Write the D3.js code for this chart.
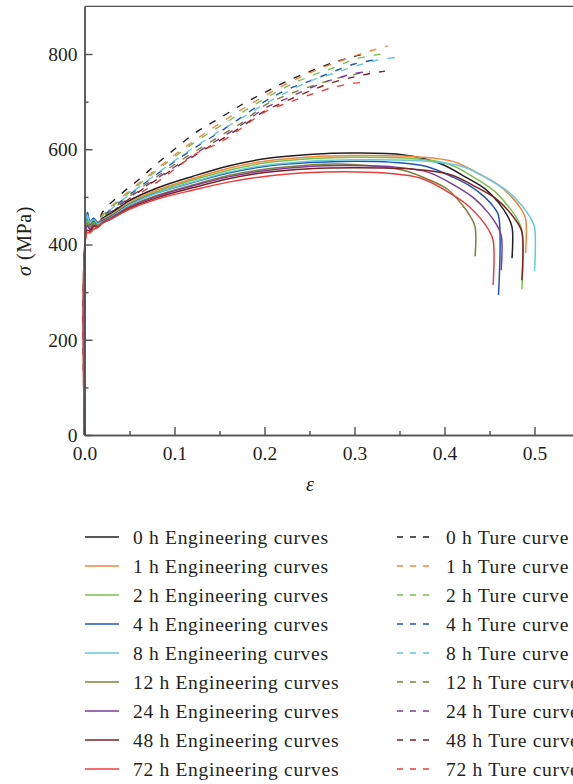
<!DOCTYPE html>
<html><head><meta charset="utf-8">
<script src="https://cdn.jsdelivr.net/npm/d3@7"></script>
<style>
html,body{margin:0;padding:0;background:#fff;}
svg{display:block;font-family:"Liberation Serif","Times New Roman",serif;}
</style></head><body>
<svg id="chart" width="573" height="784"></svg>
<script>
// ---- data ----
const hours = ["0 h","1 h","2 h","4 h","8 h","12 h","24 h","48 h","72 h"];
const xTicks = [0,0.1,0.2,0.3,0.4,0.5];
const xMinor = [0.05,0.15,0.25,0.35,0.45,0.55];
const yTicks = [0,200,400,600,800];
const yMinor = [100,300,500,700];

// engineering curves [strain, stress MPa]
const eng0h = [[0,0],[0.003,452],[0.006,440],[0.01,449],[0.015,444],[0.02,455],[0.03,466],[0.05,492],[0.08,518],[0.12,543],[0.16,565],[0.2,580],[0.25,589],[0.3,592],[0.355,588],[0.395,570],[0.425,540],[0.445,517],[0.46,488],[0.47,460],[0.475,437],[0.475,371]];
const eng1h = [[0,0],[0.003,458],[0.006,445],[0.01,452],[0.015,447],[0.02,452],[0.03,463],[0.05,488],[0.08,514],[0.12,538],[0.16,560],[0.2,575],[0.25,584],[0.3,587],[0.37,584],[0.41,574],[0.44,547],[0.46,525],[0.475,499],[0.485,475],[0.49,455],[0.49,382]];
const eng2h = [[0,0],[0.003,450],[0.006,438],[0.01,446],[0.015,441],[0.02,450],[0.03,461],[0.05,486],[0.08,511],[0.12,535],[0.16,556],[0.2,571],[0.25,580],[0.3,583],[0.366,580],[0.406,568],[0.436,537],[0.456,511],[0.471,480],[0.481,453],[0.486,430],[0.486,306]];
const eng4h = [[0,0],[0.003,468],[0.006,448],[0.01,455],[0.015,446],[0.02,450],[0.03,460],[0.05,484],[0.08,508],[0.12,530],[0.16,550],[0.2,564],[0.25,572],[0.3,575],[0.34,573],[0.38,564],[0.41,541],[0.43,521],[0.445,499],[0.455,478],[0.46,461],[0.46,294]];
const eng8h = [[0,0],[0.003,462],[0.006,447],[0.01,452],[0.015,444],[0.02,448],[0.03,458],[0.05,483],[0.08,508],[0.12,531],[0.16,552],[0.2,566],[0.25,575],[0.3,578],[0.38,575],[0.42,564],[0.45,536],[0.47,512],[0.485,484],[0.495,458],[0.5,437],[0.5,344]];
const eng12h = [[0,0],[0.003,445],[0.006,436],[0.01,444],[0.015,440],[0.02,447],[0.03,457],[0.05,480],[0.08,503],[0.12,525],[0.16,545],[0.2,558],[0.25,567],[0.28,569],[0.314,566],[0.354,556],[0.384,535],[0.404,515],[0.419,485],[0.429,458],[0.434,437],[0.434,375]];
const eng24h = [[0,0],[0.003,440],[0.006,432],[0.01,441],[0.015,438],[0.02,446],[0.03,456],[0.05,478],[0.08,501],[0.12,523],[0.16,542],[0.2,555],[0.25,564],[0.29,566],[0.343,563],[0.383,551],[0.413,522],[0.433,497],[0.448,468],[0.458,441],[0.463,419],[0.463,346]];
const eng48h = [[0,0],[0.003,430],[0.006,428],[0.01,438],[0.015,436],[0.02,445],[0.03,454],[0.05,476],[0.08,498],[0.12,519],[0.16,538],[0.2,551],[0.25,559],[0.3,561],[0.366,558],[0.406,547],[0.436,520],[0.456,498],[0.471,471],[0.481,446],[0.486,426],[0.486,325]];
const eng72h = [[0,0],[0.003,425],[0.006,424],[0.01,432],[0.015,436],[0.02,445],[0.03,454],[0.05,474],[0.08,495],[0.12,514],[0.16,531],[0.2,543],[0.25,551],[0.29,553],[0.334,550],[0.374,539],[0.404,510],[0.424,485],[0.439,457],[0.449,431],[0.454,409],[0.454,315]];

// true curves [strain, stress MPa]
const true0h = [[0,0],[0.003,452],[0.006,440],[0.01,449],[0.015,444],[0.02,468],[0.04,505],[0.06,536],[0.08,569],[0.1,600],[0.125,637],[0.15,665],[0.175,694],[0.2,719],[0.225,743],[0.25,763],[0.275,781],[0.3,795],[0.311,800]];
const true1h = [[0,0],[0.003,458],[0.006,445],[0.01,452],[0.015,447],[0.02,462],[0.04,497],[0.06,528],[0.08,558],[0.1,588],[0.125,622],[0.15,654],[0.175,684],[0.2,712],[0.225,738],[0.25,760],[0.275,779],[0.3,796],[0.32,808],[0.337,817]];
const true2h = [[0,0],[0.003,450],[0.006,438],[0.01,446],[0.015,441],[0.02,460],[0.04,494],[0.06,525],[0.08,555],[0.1,584],[0.125,618],[0.15,648],[0.175,677],[0.2,706],[0.225,732],[0.25,753],[0.275,770],[0.3,789],[0.33,800]];
const true4h = [[0,0],[0.003,468],[0.006,448],[0.01,455],[0.015,446],[0.02,458],[0.04,490],[0.06,519],[0.08,547],[0.1,574],[0.125,606],[0.15,636],[0.175,668],[0.2,700],[0.225,725],[0.25,743],[0.275,762],[0.3,779],[0.3245,788]];
const true8h = [[0,0],[0.003,462],[0.006,447],[0.01,452],[0.015,444],[0.02,458],[0.04,490],[0.06,520],[0.08,548],[0.1,576],[0.125,608],[0.15,638],[0.175,666],[0.2,695],[0.225,720],[0.25,743],[0.275,758],[0.3,774],[0.325,787],[0.35,794]];
const true12h = [[0,0],[0.003,445],[0.006,436],[0.01,444],[0.015,440],[0.02,455],[0.04,487],[0.06,515],[0.08,542],[0.1,568],[0.125,598],[0.15,627],[0.175,656],[0.2,692],[0.225,714],[0.25,731],[0.275,746],[0.3,757],[0.317,763]];
const true24h = [[0,0],[0.003,440],[0.006,432],[0.01,441],[0.015,438],[0.02,452],[0.04,484],[0.06,512],[0.08,538],[0.1,563],[0.125,593],[0.15,622],[0.175,652],[0.2,686],[0.225,707],[0.25,728],[0.275,746],[0.3,759],[0.311,762]];
const true48h = [[0,0],[0.003,430],[0.006,428],[0.01,438],[0.015,436],[0.02,450],[0.04,482],[0.06,510],[0.08,536],[0.1,560],[0.125,590],[0.15,618],[0.175,648],[0.2,680],[0.225,702],[0.25,722],[0.275,740],[0.3,752],[0.32,760],[0.334,764]];
const true72h = [[0,0],[0.003,425],[0.006,424],[0.01,432],[0.015,436],[0.02,445],[0.04,478],[0.06,505],[0.08,530],[0.1,558],[0.125,592],[0.15,614],[0.175,645],[0.2,678],[0.225,697],[0.25,714],[0.275,729],[0.3,739],[0.311,740]];

const colors = ["#231f20","#f5843a","#79c14a","#2056b3","#66c9dc","#80803a","#7c3d95","#7d2222","#ee3d3d"];
const engSeries = [eng0h,eng1h,eng2h,eng4h,eng8h,eng12h,eng24h,eng48h,eng72h];
const trueSeries = [true0h,true1h,true2h,true4h,true8h,true12h,true24h,true48h,true72h];

// ---- drawing ----
const svg = d3.select("#chart");
const x = d3.scaleLinear().domain([0,0.6]).range([84.5,624.5]);
const y = d3.scaleLinear().domain([0,900]).range([435,6.4]);
const axisColor = "#505050";
const textColor = "#231f20";

const line = d3.line().x(d=>x(d[0])).y(d=>y(d[1])).curve(d3.curveCatmullRom.alpha(0.5));

const plot = svg.append("g");
trueSeries.forEach((s,i)=>{
  plot.append("path").datum(s).attr("d",line).attr("fill","none")
    .attr("stroke",colors[i]).attr("stroke-width",1.4).attr("stroke-dasharray","7,9");
});
engSeries.forEach((s,i)=>{
  plot.append("path").datum(s).attr("d",line).attr("fill","none")
    .attr("stroke",colors[i]).attr("stroke-width",1.5);
});

// axes
const xAxis = svg.append("g").attr("transform",`translate(0,${y(0)})`)
  .call(d3.axisBottom(x).tickValues(xTicks).tickFormat(d3.format(".1f")).tickSizeInner(-8).tickSizeOuter(0).tickPadding(11));
const xAxisMinor = svg.append("g").attr("transform",`translate(0,${y(0)})`)
  .call(d3.axisBottom(x).tickValues(xMinor).tickFormat("").tickSizeInner(-4).tickSizeOuter(0));
const yAxis = svg.append("g").attr("transform",`translate(${x(0)},0)`)
  .call(d3.axisLeft(y).tickValues(yTicks).tickFormat(d3.format("d")).tickSizeInner(-8).tickSizeOuter(0).tickPadding(7));
const yAxisMinor = svg.append("g").attr("transform",`translate(${x(0)},0)`)
  .call(d3.axisLeft(y).tickValues(yMinor).tickFormat("").tickSizeInner(-4).tickSizeOuter(0));
[xAxis,xAxisMinor,yAxis,yAxisMinor].forEach(g=>{
  g.selectAll("path,line").attr("stroke",axisColor).attr("stroke-width",1.4);
  g.selectAll("text").attr("font-family","Liberation Serif, serif").attr("font-size",19.5).attr("fill",textColor);
});
// top frame
svg.append("line").attr("x1",x(0)).attr("x2",x(0.6)).attr("y1",y(900)).attr("y2",y(900))
  .attr("stroke",axisColor).attr("stroke-width",1.4);

// axis titles
svg.append("text").attr("x",310).attr("y",491).attr("text-anchor","middle")
  .attr("font-size",20).attr("font-style","italic").attr("fill",textColor).text("ε");
const yt = svg.append("text").attr("transform","translate(31,241) rotate(-90)").attr("text-anchor","middle")
  .attr("font-size",20).attr("letter-spacing",0.6).attr("fill",textColor);
yt.append("tspan").attr("font-style","italic").text("σ");
yt.append("tspan").text(" (MPa)");

// legend
const leg = svg.append("g");
hours.forEach((h,i)=>{
  const yy = 537 + i*29;
  leg.append("line").attr("x1",85).attr("x2",119).attr("y1",yy).attr("y2",yy)
    .attr("stroke",colors[i]).attr("stroke-width",1.5);
  leg.append("text").attr("x",133).attr("y",yy+6.5).attr("font-size",19.5).attr("letter-spacing",0.7)
    .attr("fill",textColor).text(h+" Engineering curves");
  leg.append("line").attr("x1",397).attr("x2",431).attr("y1",yy).attr("y2",yy)
    .attr("stroke",colors[i]).attr("stroke-width",1.5).attr("stroke-dasharray","6,7");
  leg.append("text").attr("x",446).attr("y",yy+6.5).attr("font-size",19.5).attr("letter-spacing",0.7)
    .attr("fill",textColor).text(h+" Ture curve");
});
</script>
</body></html>
